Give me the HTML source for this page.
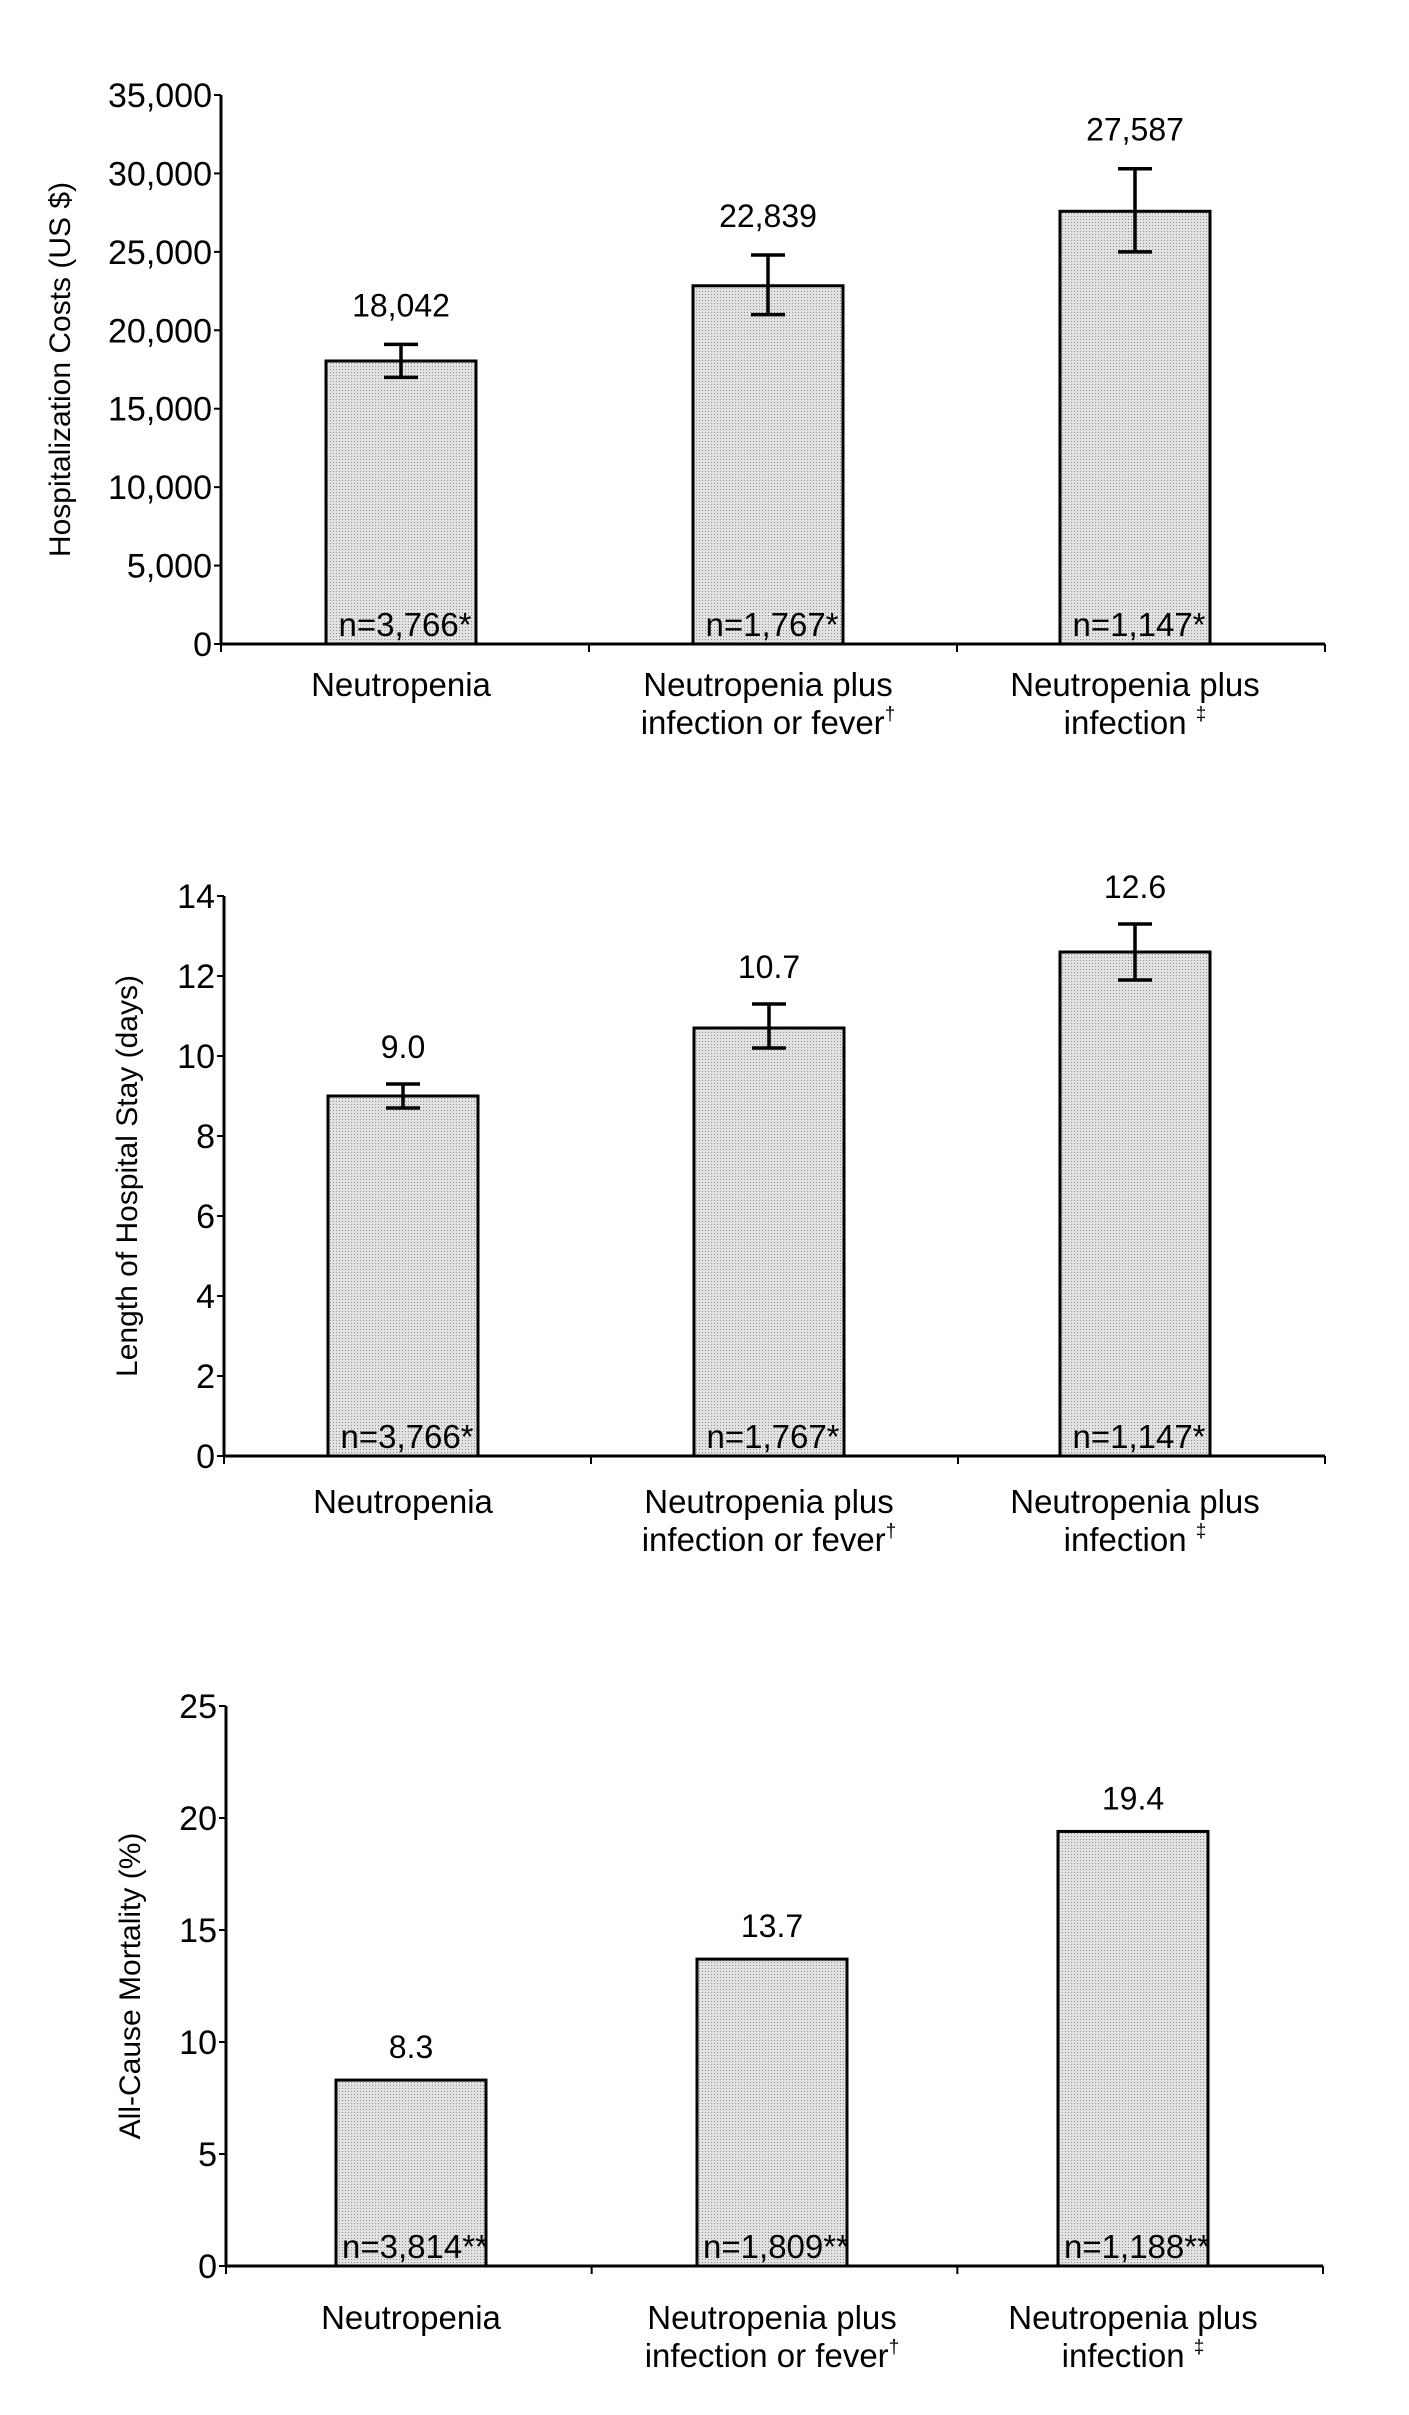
<!DOCTYPE html>
<html><head><meta charset="utf-8"><style>
html,body{margin:0;padding:0;background:#fff;}
svg{display:block;font-family:"Liberation Sans",Arial,sans-serif;}
</style></head>
<body>
<svg id="fig" width="1409" height="2415" viewBox="0 0 1409 2415" xmlns="http://www.w3.org/2000/svg">
<defs>
<pattern id="dots" width="3" height="3" patternUnits="userSpaceOnUse">
<rect width="3" height="3" fill="#e2e2e2"/><rect width="1" height="1" fill="#8f8f8f"/>
</pattern>
</defs>
</svg>
<script>
const categories = [["Neutropenia"],["Neutropenia plus","infection or fever","†"],["Neutropenia plus","infection ","‡"]];
const costValues = [18042, 22839, 27587];
const costLow = [17000, 21000, 25000];
const costHigh = [19100, 24800, 30300];
const costLabels = ["18,042","22,839","27,587"];
const costN = ["n=3,766*","n=1,767*","n=1,147*"];
const costTicks = [0,5000,10000,15000,20000,25000,30000,35000];
const costTickLabels = ["0","5,000","10,000","15,000","20,000","25,000","30,000","35,000"];
const losValues = [9.0, 10.7, 12.6];
const losLow = [8.7, 10.2, 11.9];
const losHigh = [9.3, 11.3, 13.3];
const losLabels = ["9.0","10.7","12.6"];
const losN = ["n=3,766*","n=1,767*","n=1,147*"];
const losTicks = [0,2,4,6,8,10,12,14];
const mortValues = [8.3, 13.7, 19.4];
const mortLabels = ["8.3","13.7","19.4"];
const mortN = ["n=3,814**","n=1,809**","n=1,188**"];
const mortTicks = [0,5,10,15,20,25];

const NS="http://www.w3.org/2000/svg";
const svg=document.getElementById('fig');
function el(tag,attrs,parent){const e=document.createElementNS(NS,tag);for(const k in attrs)e.setAttribute(k,attrs[k]);(parent||svg).appendChild(e);return e;}

function chart(cfg){
  const g=el('g',{});
  
  
  const x0=cfg.x0,x1=cfg.x1,y0=cfg.y0,yT=cfg.yT,max=cfg.max;
  const Y=v=>y0-(v/max)*(y0-yT);
  const cw=(x1-x0)/categories.length;
  const X=i=>cfg.first+cfg.step*i;
  const ya=el('line',{x1:x0,y1:yT,x2:x0,y2:y0,stroke:'#000','stroke-width':3},g);
  
  
  cfg.ticks.forEach((t,i)=>{
    el('line',{x1:x0-7,y1:Y(t),x2:x0,y2:Y(t),stroke:'#000','stroke-width':2},g);
    const tl=el('text',{x:x0-9,y:Y(t)+12,'text-anchor':'end','font-size':34},g);
    tl.textContent=cfg.tickLabels?cfg.tickLabels[i]:String(t);
    
    
  });
  const yt=el('text',{x:0,y:0,'text-anchor':'middle','font-size':30,transform:`translate(${cfg.titleX},${(y0+yT)/2}) rotate(-90)`},g);
  yt.textContent=cfg.title;
  
  
  cfg.values.forEach((v,i)=>{
    const bw=150, bx=X(i)-bw/2;
    const b=el('rect',{x:bx,y:Y(v),width:bw,height:y0-Y(v),fill:'url(#dots)',stroke:'#000','stroke-width':3},g);
    
    
    let top=Y(v);
    if(cfg.low){
      const eg=el('g',{stroke:'#000','stroke-width':3.5},g);
      
      
      el('line',{x1:X(i),y1:Y(cfg.low[i]),x2:X(i),y2:Y(cfg.high[i])},eg);
      el('line',{x1:X(i)-17,y1:Y(cfg.low[i]),x2:X(i)+17,y2:Y(cfg.low[i])},eg);
      el('line',{x1:X(i)-17,y1:Y(cfg.high[i]),x2:X(i)+17,y2:Y(cfg.high[i])},eg);
      top=Y(cfg.high[i]);
    }
    const vl=el('text',{x:X(i),y:top-cfg.gap,'text-anchor':'middle','font-size':32},g);
    vl.textContent=cfg.labels[i];
    
    
    const nl=el('text',{x:X(i)+4,y:y0-8,'text-anchor':'middle','font-size':33},g);
    nl.textContent=cfg.n[i];
    
    
    const c=categories[i];
    const t1=el('text',{x:X(i),y:y0+52+cfg.labOff,'text-anchor':'middle','font-size':33},g);
    t1.textContent=c[0];
    
    
    if(c[1]){
      const t2=el('text',{x:X(i),y:y0+90+cfg.labOff,'text-anchor':'middle','font-size':33},g);
      t2.textContent=c[1];
      const sup=el('tspan',{'font-size':19,dy:-14},t2);
      sup.textContent=c[2];
      
      
    }
  });
  const xa=el('line',{x1:x0,y1:y0,x2:x1,y2:y0,stroke:'#000','stroke-width':3},g);
  
  
  for(let i=0;i<=categories.length;i++){
    el('line',{x1:x0+cw*i,y1:y0,x2:x0+cw*i,y2:y0+8,stroke:'#000','stroke-width':2},g);
  }
}
chart({name:'hospitalization-costs-chart',x0:221,x1:1325,y0:644,yT:95,max:35000,ticks:costTicks,tickLabels:costTickLabels,title:'Hospitalization Costs (US $)',titleX:70,first:401,step:367,gap:28,labOff:0,values:costValues,low:costLow,high:costHigh,labels:costLabels,n:costN});
chart({name:'length-of-stay-chart',x0:224,x1:1325,y0:1456,yT:896,max:14,ticks:losTicks,title:'Length of Hospital Stay (days)',titleX:137,first:403,step:366,gap:26,labOff:5,values:losValues,low:losLow,high:losHigh,labels:losLabels,n:losN});
chart({name:'mortality-chart',x0:226,x1:1323,y0:2266,yT:1706,max:25,ticks:mortTicks,title:'All-Cause Mortality (%)',titleX:140,first:411,step:361,gap:22,labOff:11,values:mortValues,labels:mortLabels,n:mortN});
</script>
</body></html>
